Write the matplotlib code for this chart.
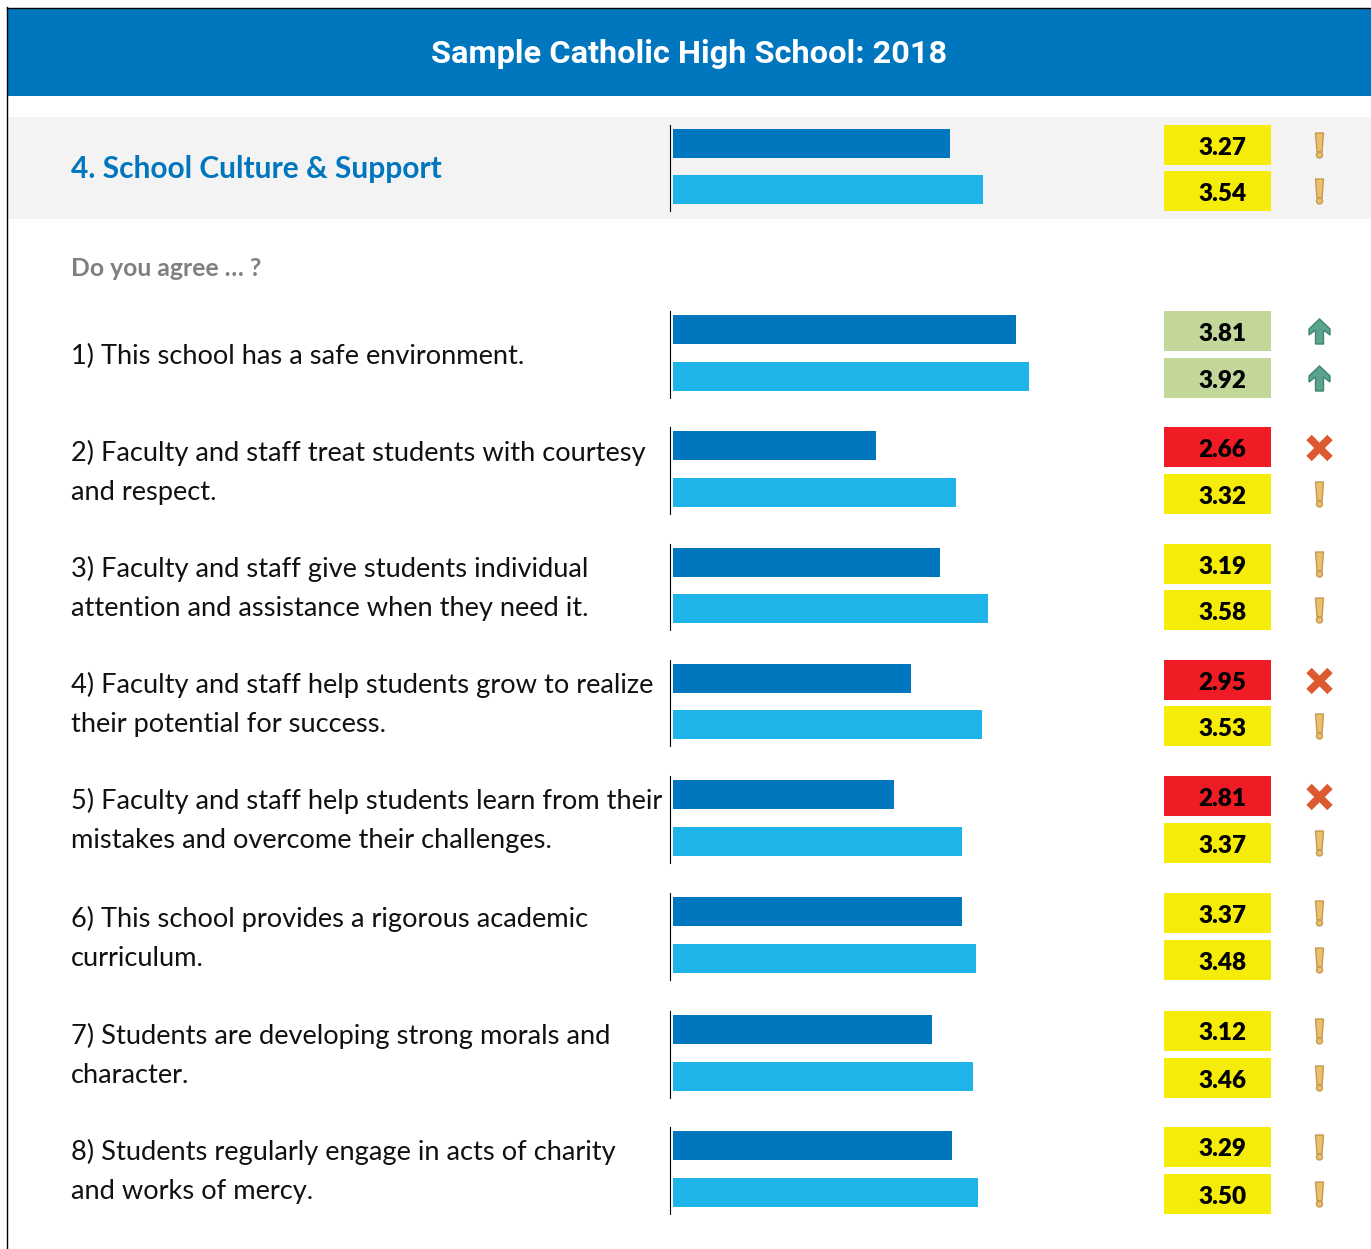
import matplotlib
matplotlib.use("Agg")
import matplotlib.pyplot as plt
from matplotlib.patches import Polygon, Circle, Rectangle

# --- data ---
title = "Sample Catholic High School: 2018"
section = "4. School Culture & Support"
prompt = "Do you agree … ?"
questions = [
    ["1) This school has a safe environment."],
    ["2) Faculty and staff treat students with courtesy", "and respect."],
    ["3) Faculty and staff give students individual", "attention and assistance when they need it."],
    ["4) Faculty and staff help students grow to realize", "their potential for success."],
    ["5) Faculty and staff help students learn from their", "mistakes and overcome their challenges."],
    ["6) This school provides a rigorous academic", "curriculum."],
    ["7) Students are developing strong morals and", "character."],
    ["8) Students regularly engage in acts of charity", "and works of mercy."],
]
section_scores = [3.27, 3.54]
school_scores = [3.81, 2.66, 3.19, 2.95, 2.81, 3.37, 3.12, 3.29]
group_scores = [3.92, 3.32, 3.58, 3.53, 3.37, 3.48, 3.46, 3.50]

# --- layout in pixels ---
W, H = 1371, 1249
row_tops = [125, 311, 427, 544, 660, 776, 893, 1011, 1127]
row_gaps = [46, 47, 47, 46, 46, 47, 47, 47, 47]
box_h = 40
text_base = [364, 461, 577, 693, 809, 927, 1044, 1160]

BLUE = "#0076BF"
CYAN = "#1EB4EA"
body = "Lato"

fig = plt.figure(figsize=(W / 100, H / 100), dpi=100)
ax = fig.add_axes([0, 0, 1, 1])
ax.set_xlim(0, W)
ax.set_ylim(H, 0)
ax.axis("off")

# frame, banner, band
ax.add_patch(Rectangle((8, 8), W - 8, 88, color=BLUE, lw=0))
ax.add_patch(Rectangle((8, 117), W - 8, 102, color="#F3F3F3", lw=0))
ax.plot([7, 7], [7, H], color="black", lw=1)
ax.plot([7, W], [7.5, 7.5], color="black", lw=1)

ax.text(689, 63, title, color="white", fontsize=23.4, fontweight="bold",
        family="Roboto", ha="center", va="baseline")
ax.text(71, 178, section, color=BLUE, fontsize=21.5, fontweight="bold",
        family=body, va="baseline")
ax.text(71, 276, prompt, color="#7F7F7F", fontsize=17.8, fontweight="bold",
        family=body, va="baseline")

for lines, base in zip(questions, text_base):
    for k, line in enumerate(lines):
        ax.text(71, base + k * 39, line, color="#111111", fontsize=19.65,
                family=body, va="baseline")


def box_color(v):
    if v >= 3.75:
        return "#C4D79B"
    if v < 3.0:
        return "#EF1C25"
    return "#F5EC0A"


def draw_icon(v, y):
    x = 1319.5
    if v >= 3.75:
        pts = [(0, -12), (10.5, -2), (10.5, 4), (4, -1), (4, 13), (-4, 13), (-4, -1), (-10.5, 4), (-10.5, -2)]
        ax.add_patch(Polygon([(x + a, y + b) for a, b in pts], fc="#5BA38C", ec="#3E8673", lw=1))
    elif v < 3.0:
        for s in (1, -1):
            ax.plot([x - 10.5, x + 10.5], [y + 1 - 10.5 * s, y + 1 + 10.5 * s], color="#DC5A30", lw=5.5,
                    solid_capstyle="butt")
    else:
        pts = [(-4, -12), (4, -12), (2.5, 7), (-2.5, 7)]
        ax.add_patch(Polygon([(x + a, y + b) for a, b in pts], fc="#EDBE6D", ec="#C49A50", lw=1))
        ax.add_patch(Circle((x, y + 10), 3, fc="#EDBE6D", ec="#C49A50", lw=1))


# bars on their own value axis, starting at the scale minimum of 1
bar_ax = fig.add_axes([673 / W, 0, 366 / W, 1])
bar_ax.set_xlim(1, 4)
bar_ax.set_ylim(H, 0)
bar_ax.axis("off")
bar_ax.patch.set_alpha(0)

first = [section_scores[0]] + school_scores
second = [section_scores[1]] + group_scores
for top, gap, a, b in zip(row_tops, row_gaps, first, second):
    ax.plot([669.5, 669.5], [top, top + gap + box_h], color="black", lw=0.8)
    for v, y0, col in ((a, top, BLUE), (b, top + gap, CYAN)):
        bar_ax.barh(y0 + 18, v - 1, left=1, height=29, color=col, lw=0)
        ax.add_patch(Rectangle((1164, y0), 107, box_h, color=box_color(v), lw=0))
        ax.text(1222.5, y0 + 29.5, f"{v:.2f}", color="black", fontsize=17.5, fontweight="heavy",
                family=body, ha="center", va="baseline")
        draw_icon(v, y0 + box_h / 2)

fig.savefig("out.png", dpi=100)
